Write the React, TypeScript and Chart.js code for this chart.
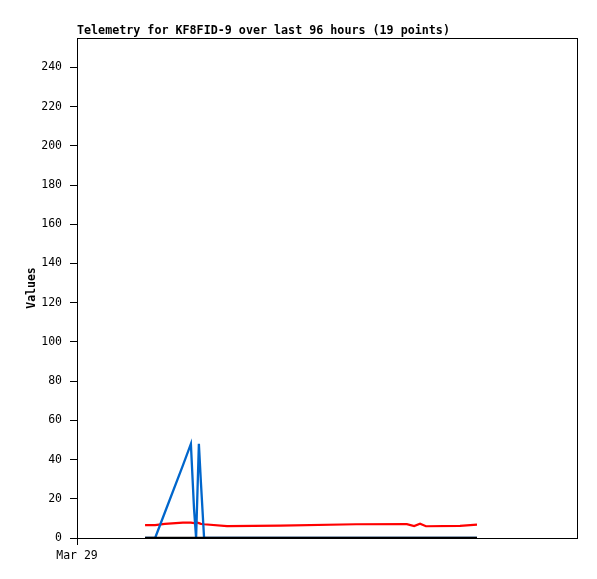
import React, { useEffect, useRef } from "react";
import { Chart, registerables } from "chart.js";

Chart.register(...registerables);

const TITLE = "Telemetry for KF8FID-9 over last 96 hours (19 points)";
const Y_TITLE = "Values";
const X_TICK_LABEL = "Mar 29";

// hours since Mar 29 00:00
const hours = [19.6, 22.5, 25.3, 30.5, 32.8, 33.7, 34.3, 35.1, 35.7, 36.6, 43.2, 58.5, 80.4, 95.0, 97.1, 98.8, 100.5, 110.3, 115.2];
const seriesBlack = [0, 0, 0, 0, 0, 0, 0, 0, 0, 0, 0, 0, 0, 0, 0, 0, 0, 0, 0];
const seriesBlue = [0, 0, 13, 37, 48, 15, 0, 48, 28, 0, 0, 0, 0, 0, 0, 0, 0, 0, 0];
const seriesRed = [6.6, 6.6, 7.2, 7.8, 7.8, 7.6, 8.0, 7.6, 7.2, 7.0, 6.1, 6.3, 7.0, 7.1, 6.1, 7.3, 6.0, 6.2, 6.8];
const yTicks = [0, 20, 40, 60, 80, 100, 120, 140, 160, 180, 200, 220, 240];

const FONT = "'DejaVu Sans Mono', monospace";

export default function App() {
  const ref = useRef<HTMLCanvasElement>(null);
  useEffect(() => {
    const canvas = ref.current!;
    const toPts = (arr: number[]) => arr.map((v, i) => ({ x: hours[i], y: v }));
    const framePlugin = {
      id: "frame",
      afterDraw(chart: any) {
        const { ctx, chartArea } = chart;
        ctx.save();
        ctx.strokeStyle = "#000";
        ctx.lineWidth = 1;
        ctx.strokeRect(
          Math.round(chartArea.left) + 0.5,
          Math.round(chartArea.top) + 0.5,
          Math.round(chartArea.right - chartArea.left),
          Math.round(chartArea.bottom - chartArea.top)
        );
        ctx.fillStyle = "#000";
        ctx.font = `bold 11.7px ${FONT}`;
        ctx.textBaseline = "alphabetic";
        ctx.textAlign = "left";
        ctx.fillText(TITLE, chartArea.left, 34);
        ctx.restore();
      },
    };
    const chart = new Chart(canvas, {
      type: "line",
      data: {
        datasets: [
          { data: toPts(seriesBlack), borderColor: "#000000", borderWidth: 2.5, pointRadius: 0, tension: 0 },
          { data: toPts(seriesBlue), borderColor: "#0066cc", borderWidth: 2.3, pointRadius: 0, tension: 0 },
          { data: toPts(seriesRed), borderColor: "#ff0000", borderWidth: 2.2, pointRadius: 0, tension: 0 },
        ],
      },
      options: {
        responsive: false,
        animation: false,
        layout: { padding: { left: 0, right: 20, top: 38, bottom: 0 } },
        plugins: { legend: { display: false }, tooltip: { enabled: false }, title: { display: false } },
        scales: {
          x: {
            type: "linear",
            min: 0,
            max: 144,
            afterBuildTicks: (scale: any) => {
              scale.ticks = [{ value: 0 }];
            },
            afterFit: (scale: any) => {
              scale.height = 41;
            },
            grid: { drawOnChartArea: false, drawTicks: true, tickLength: 7, color: "#000" },
            border: { display: true, color: "#000" },
            ticks: {
              color: "#000",
              font: { family: FONT, size: 11.5 },
              padding: 4,
              maxRotation: 0,
              callback: () => X_TICK_LABEL,
            },
          },
          y: {
            type: "linear",
            min: 0,
            max: 255,
            afterBuildTicks: (scale: any) => {
              scale.ticks = yTicks.map((v) => ({ value: v }));
            },
            afterFit: (scale: any) => {
              scale.width = 77;
            },
            grid: { drawOnChartArea: false, drawTicks: true, tickLength: 7, color: "#000" },
            border: { display: true, color: "#000" },
            ticks: {
              color: "#000",
              font: { family: FONT, size: 11.5 },
              padding: 8,
            },
            title: {
              display: true,
              text: Y_TITLE,
              color: "#000",
              font: { family: FONT, size: 11.5, weight: "bold" },
              padding: { top: 25, bottom: 0 },
            },
          },
        },
      },
      plugins: [framePlugin],
    });
    return () => chart.destroy();
  }, []);
  return (
    <div style={{ position: "fixed", left: 0, top: 0, width: 597, height: 579, background: "#fff" }}>
      <canvas ref={ref} width={597} height={579} style={{ display: "block" }} />
    </div>
  );
}
